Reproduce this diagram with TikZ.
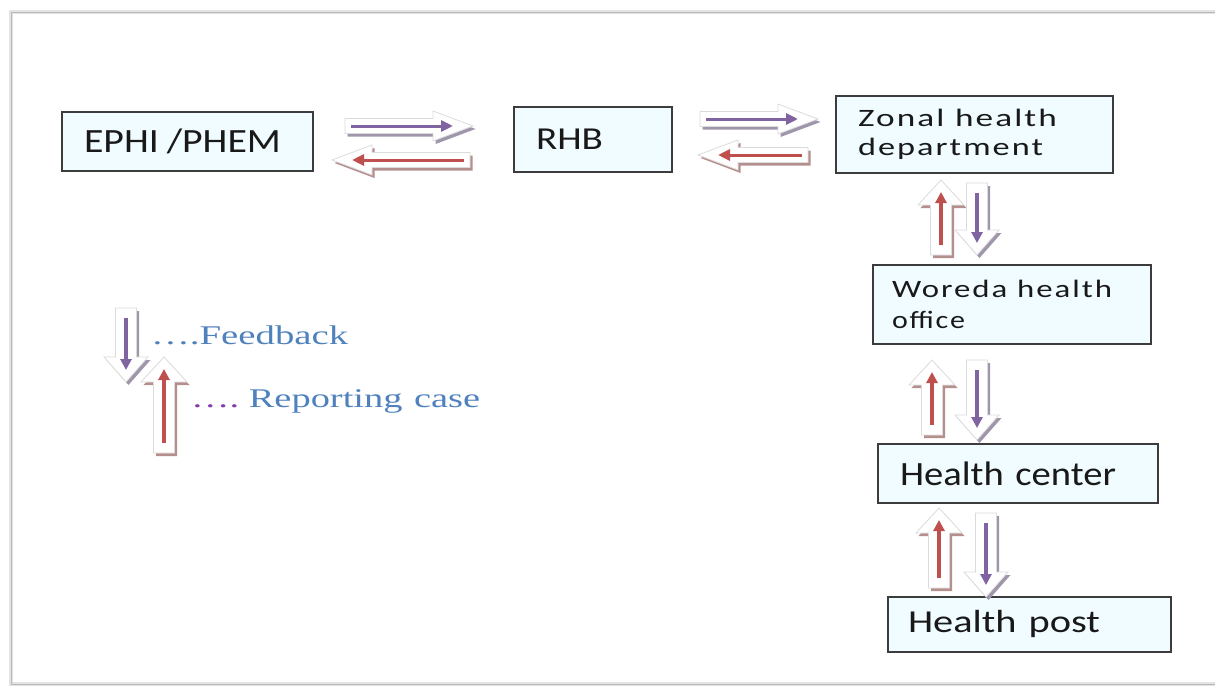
\documentclass[tikz,border=0pt]{standalone}
\usepackage{fontspec}
\usepackage{graphicx}
\setmainfont{Carlito}
\newfontfamily\boxfont{Carlito}
\newfontfamily\spacedfont[LetterSpace=6]{Carlito}
\newfontfamily\legfont{Liberation Serif}
\usetikzlibrary{arrows.meta}
\definecolor{boxfill}{RGB}{240,252,255}
\definecolor{boxline}{RGB}{60,60,60}
\definecolor{boxtext}{RGB}{25,25,25}
\definecolor{fbpurple}{RGB}{128,100,162}
\definecolor{rpred}{RGB}{192,80,77}
\definecolor{legblue}{RGB}{79,129,189}
\definecolor{dotpurple}{RGB}{128,60,170}
\newcommand\fitw[2]{\resizebox{#1pt}{\height}{#2}}
\newcommand\wsp{\hspace{0.3em}}
\newcommand\blockarrow[2]{%
  \begin{scope}[shift={(2.5,3)}]\fill[#2!45!gray!75] #1;\end{scope}
  \filldraw[fill=white,draw=gray!28,line width=0.8pt] #1;
}
\tikzset{
  box/.style={draw=boxline, fill=boxfill, line width=1.4pt, inner xsep=22pt,
    inner ysep=0pt, align=left, anchor=center, text=boxtext},
  hinner/.style={line width=3pt,-{Triangle[length=12pt,width=11pt]}},
  vinner/.style={line width=3.6pt,-{Triangle[length=11pt,width=11pt]}},
  pics/rarr/.style 2 args={code={
    \blockarrow{(0,-7.5) -- ({#1-40},-7.5) -- ({#1-40},-15) -- (#1,0) -- ({#1-40},15) -- ({#1-40},7.5) -- (0,7.5) -- cycle}{#2}
    \draw[#2,hinner] (6,0) -- ({#1-20},0);
  }},
  pics/larr/.style 2 args={code={
    \blockarrow{(0,-7.5) -- ({-#1+40},-7.5) -- ({-#1+40},-15) -- (-#1,0) -- ({-#1+40},15) -- ({-#1+40},7.5) -- (0,7.5) -- cycle}{#2}
    \draw[#2,hinner] (-6,0) -- ({-#1+20},0);
  }},
  pics/uarr/.style 2 args={code={
    \blockarrow{(-10.5,0) -- (-10.5,{-#1+25}) -- (-23,{-#1+25}) -- (0,-#1) -- (23,{-#1+25}) -- (10.5,{-#1+25}) -- (10.5,0) -- cycle}{#2}
    \draw[#2,vinner] (0,-10) -- (0,{-#1+12});
  }},
  pics/darr/.style 2 args={code={
    \blockarrow{(-10.5,0) -- (-10.5,{#1-25}) -- (-22,{#1-25}) -- (0,#1) -- (22,{#1-25}) -- (10.5,{#1-25}) -- (10.5,0) -- cycle}{#2}
    \draw[#2,vinner] (0,10) -- (0,{#1-12});
  }},
}
\begin{document}
\begin{tikzpicture}[x=1pt,y=-1pt]
\useasboundingbox (0,0) rectangle (1215,688);
% frame
\draw[gray!22,line width=4pt] (11,12) rectangle (1240,684);
\draw[gray!55,line width=1pt] (11,12) rectangle (1240,684);

% boxes
\node[box, text width=207pt, minimum height=59pt] (ephi) at (187.5,141.5)
  {\fitw{197}{\boxfont\fontsize{34}{40}\selectfont EPHI\hspace{0.2em}/PHEM}};
\node[box, text width=114pt, minimum height=65pt] (rhb) at (593,139.5)
  {\fitw{67}{\boxfont\fontsize{32}{38}\selectfont RHB}};
\node[box, text width=233pt, minimum height=77pt, font=\fontsize{25}{29}\selectfont] (zonal) at (974.5,134.5)
  {\fitw{199}{\spacedfont\fontsize{25}{29}\selectfont Zonal\wsp health}\\
   \fitw{185}{\spacedfont\fontsize{25}{29}\selectfont department}};
\node[box, inner xsep=19pt, text width=240pt, minimum height=79pt, font=\fontsize{25}{31}\selectfont] (woreda) at (1012,304.5)
  {\fitw{220}{\spacedfont\fontsize{25}{31}\selectfont Woreda\wsp health}\\
   \fitw{73}{\spacedfont\fontsize{25}{31}\selectfont office}};
\node[box, text width=236pt, minimum height=59pt] (hc) at (1018,473.5)
  {\fitw{216}{\boxfont\fontsize{34}{40}\selectfont Health\wsp center}};
\node[box, inner xsep=20pt, text width=243pt, minimum height=55pt] (hp) at (1029.5,624.5)
  {\raisebox{7pt}{\fitw{192}{\boxfont\fontsize{32}{38}\selectfont Health\wsp post}}};

% horizontal arrows
\pic at (345,126) {rarr={128}{fbpurple}};
\pic at (470,160) {larr={138}{rpred}};
\pic at (700,119) {rarr={118}{fbpurple}};
\pic at (808,155) {larr={110}{rpred}};

% vertical arrows
\pic at (941,255) {uarr={75}{rpred}};
\pic at (977,183) {darr={72}{fbpurple}};
\pic at (932,435) {uarr={75}{rpred}};
\pic at (977,360) {darr={80}{fbpurple}};
\pic at (939,588) {uarr={80}{rpred}};
\pic at (986,513) {darr={84}{fbpurple}};

% legend
\pic at (126,308) {darr={74}{fbpurple}};
\pic at (164,453) {uarr={96}{rpred}};
\node[anchor=base west, text=legblue, inner sep=0pt] (fb) at (151,344)
  {\fitw{197}{\legfont\fontsize{27}{32}\selectfont ….Feedback}};
\node[anchor=base west, inner sep=0pt] (rc) at (191,407)
  {\fitw{289}{\legfont\fontsize{27}{32}\selectfont\textcolor{dotpurple}{….}\hspace{0.25em}\textcolor{legblue}{Reporting\hspace{0.3em}case}}};
\end{tikzpicture}
\end{document}
